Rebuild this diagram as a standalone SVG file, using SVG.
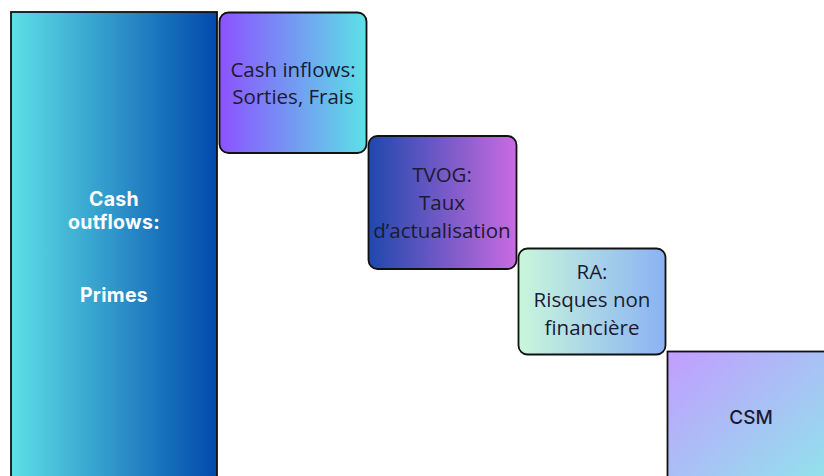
<svg xmlns="http://www.w3.org/2000/svg" width="824" height="476" viewBox="0 0 824 476">
<style>
.box{stroke:#111;stroke-width:1.8}
.t{font-family:"Open Sans","Liberation Sans",sans-serif;font-size:20.5px;fill:#1b1b33;text-anchor:middle}
.w{font-family:Inter,"Liberation Sans",sans-serif;font-size:19.5px;font-weight:700;fill:#ffffff;text-anchor:middle;letter-spacing:0.3px}
.c{font-family:Inter,"Liberation Sans",sans-serif;font-size:19px;font-weight:500;fill:#1b1b33;text-anchor:middle}
</style>
<defs>
<linearGradient id="g0" x1="0" y1="0" x2="1" y2="0"><stop offset="0" stop-color="#5de0e6"/><stop offset="1" stop-color="#004aad"/></linearGradient>
<linearGradient id="g1" x1="0" y1="0" x2="1" y2="0"><stop offset="0" stop-color="#8c52ff"/><stop offset="1" stop-color="#5ce1e6"/></linearGradient>
<linearGradient id="g2" x1="0" y1="0" x2="1" y2="0"><stop offset="0" stop-color="#1f48ad"/><stop offset="1" stop-color="#c96be0"/></linearGradient>
<linearGradient id="g3" x1="0" y1="0" x2="1" y2="0"><stop offset="0" stop-color="#c9f7db"/><stop offset="1" stop-color="#8ab2f4"/></linearGradient>
<linearGradient id="g4" x1="0" y1="0" x2="1" y2="1"><stop offset="0" stop-color="#c29dff"/><stop offset="1" stop-color="#8de8ea"/></linearGradient>
</defs>
<rect width="824" height="476" fill="#ffffff"/>
<g id="cash-outflows">
<rect class="box" x="11" y="12" width="206" height="470" fill="url(#g0)"/>
<text class="w" x="114" y="206">Cash</text>
<text class="w" x="114" y="229">outflows:</text>
<text class="w" x="114" y="302">Primes</text>
</g>
<g id="cash-inflows">
<rect class="box" x="219.5" y="12.5" width="147" height="140.5" rx="9" fill="url(#g1)"/>
<text class="t" x="293" y="77">Cash inflows:</text>
<text class="t" x="293" y="104">Sorties, Frais</text>
</g>
<g id="tvog">
<rect class="box" x="368.5" y="136" width="148" height="133" rx="9" fill="url(#g2)"/>
<text class="t" x="442" y="182">TVOG:</text>
<text class="t" x="442" y="210">Taux</text>
<text class="t" x="442" y="238">d’actualisation</text>
</g>
<g id="ra">
<rect class="box" x="518.5" y="248.5" width="147" height="106" rx="9" fill="url(#g3)"/>
<text class="t" x="592" y="279">RA:</text>
<text class="t" x="592" y="307">Risques non</text>
<text class="t" x="592" y="335">financière</text>
</g>
<g id="csm">
<rect class="box" x="667.5" y="351.5" width="170" height="140" fill="url(#g4)"/>
<text class="c" x="751" y="424">CSM</text>
</g>
<g id="connectors"></g>
</svg>
